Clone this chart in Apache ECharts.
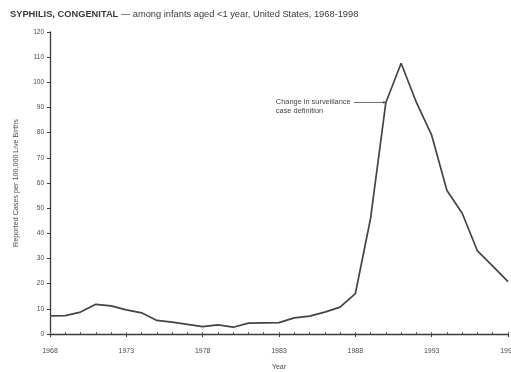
<!DOCTYPE html>
<html>
<head>
<meta charset="utf-8">
<script src="https://cdn.jsdelivr.net/npm/echarts@6/dist/echarts.min.js"></script>
<style>
  html, body { margin: 0; padding: 0; background: #fff; }
  #chart { width: 511px; height: 372px; }
</style>
</head>
<body>
<div id="chart"></div>
<script>
// Congenital syphilis rate per 100,000 live births, infants <1 year, US
const years = [
  1968, 1969, 1970, 1971, 1972, 1973, 1974, 1975, 1976, 1977, 1978,
  1979, 1980, 1981, 1982, 1983, 1984, 1985, 1986, 1987, 1988,
  1989, 1990, 1991, 1992, 1993, 1994, 1995, 1996, 1997, 1998
];
const rates = [
  7.2, 7.3, 8.7, 11.8, 11.2, 9.6, 8.4, 5.4, 4.7, 3.8, 2.9,
  3.6, 2.7, 4.3, 4.4, 4.5, 6.4, 7.1, 8.7, 10.7, 16.0,
  46.0, 92.0, 107.6, 92.0, 79.0, 57.0, 48.0, 33.0, 27.0, 20.8
];
const yTicks = { min: 0, max: 120, step: 10 };
const annotation = {
  lines: ['Change in surveillance', 'case definition'],
  yearIndex: 21.75,
  value: 92
};

const FONT = '"Liberation Sans", Arial, sans-serif';
const INK = '#3a3a3a';
const LABEL = '#4a4a4a';
const chart = echarts.init(document.getElementById('chart'), null, { renderer: 'canvas' });

const option = {
  backgroundColor: '#ffffff',
  animation: false,
  textStyle: { fontFamily: FONT },
  title: {
    text: '{b|SYPHILIS, CONGENITAL} — among infants aged <1 year, United States, 1968-1998',
    left: 5,
    top: 5,
    textStyle: {
      fontFamily: FONT,
      fontSize: 9.3,
      fontWeight: 'normal',
      color: INK,
      rich: {
        b: { fontFamily: FONT, fontSize: 9.3, fontWeight: 'bold', color: INK }
      }
    }
  },
  grid: { left: 50, right: 3, top: 32, bottom: 38, containLabel: false, outerBoundsMode: 'none' },
  xAxis: [
    {
      type: 'category',
      data: years.map(String),
      boundaryGap: false,
      name: 'Year',
      nameLocation: 'middle',
      nameGap: 30,
      nameTextStyle: { fontSize: 7, color: LABEL, fontFamily: FONT },
      axisLine: { lineStyle: { color: INK, width: 1.3 } },
      axisTick: { show: true, interval: 4, length: 3, lineStyle: { color: INK } },
      axisLabel: { interval: 4, fontSize: 7, color: LABEL, margin: 14, fontFamily: FONT },
      splitLine: { show: false }
    },
    {
      type: 'category',
      data: years.map(String),
      boundaryGap: false,
      position: 'bottom',
      axisLine: { show: false },
      axisTick: { show: true, inside: true, interval: 0, length: 2, lineStyle: { color: '#666' } },
      axisLabel: { show: false },
      splitLine: { show: false }
    }
  ],
  yAxis: {
    type: 'value',
    min: yTicks.min,
    max: yTicks.max,
    interval: yTicks.step,
    name: 'Reported Cases per 100,000 Live Births',
    nameLocation: 'middle',
    nameGap: 30,
    nameRotate: 90,
    nameTextStyle: { fontSize: 7.2, color: LABEL, fontFamily: FONT },
    axisLine: { show: true, lineStyle: { color: INK, width: 1.3 } },
    axisTick: { show: true, length: 3, lineStyle: { color: INK } },
    axisLabel: { fontSize: 6.5, color: LABEL, margin: 6, fontFamily: FONT },
    splitLine: { show: false }
  },
  series: [
    {
      type: 'line',
      data: rates,
      xAxisIndex: 0,
      yAxisIndex: 0,
      symbol: 'none',
      smooth: false,
      lineStyle: { color: '#444', width: 1.7 }
    }
  ]
};

chart.setOption(option);

// Annotation text with a leader line pointing at the rising segment
const tip = chart.convertToPixel({ xAxisIndex: 0, yAxisIndex: 0 }, [annotation.yearIndex, annotation.value]);
const textLeft = tip[0] - 110;
const textRight = tip[0] - 32;
chart.setOption({
  graphic: [
    {
      type: 'text',
      left: textLeft,
      top: tip[1] - 5,
      style: {
        text: annotation.lines.join('\n'),
        font: '7.4px ' + FONT,
        fill: '#444',
        lineHeight: 9
      }
    },
    {
      type: 'line',
      shape: { x1: textRight, y1: tip[1], x2: tip[0] - 2, y2: tip[1] },
      style: { stroke: '#444', lineWidth: 0.8 }
    },
    {
      type: 'circle',
      shape: { cx: tip[0] - 2, cy: tip[1], r: 1.1 },
      style: { fill: '#444' }
    }
  ]
});
</script>
</body>
</html>
